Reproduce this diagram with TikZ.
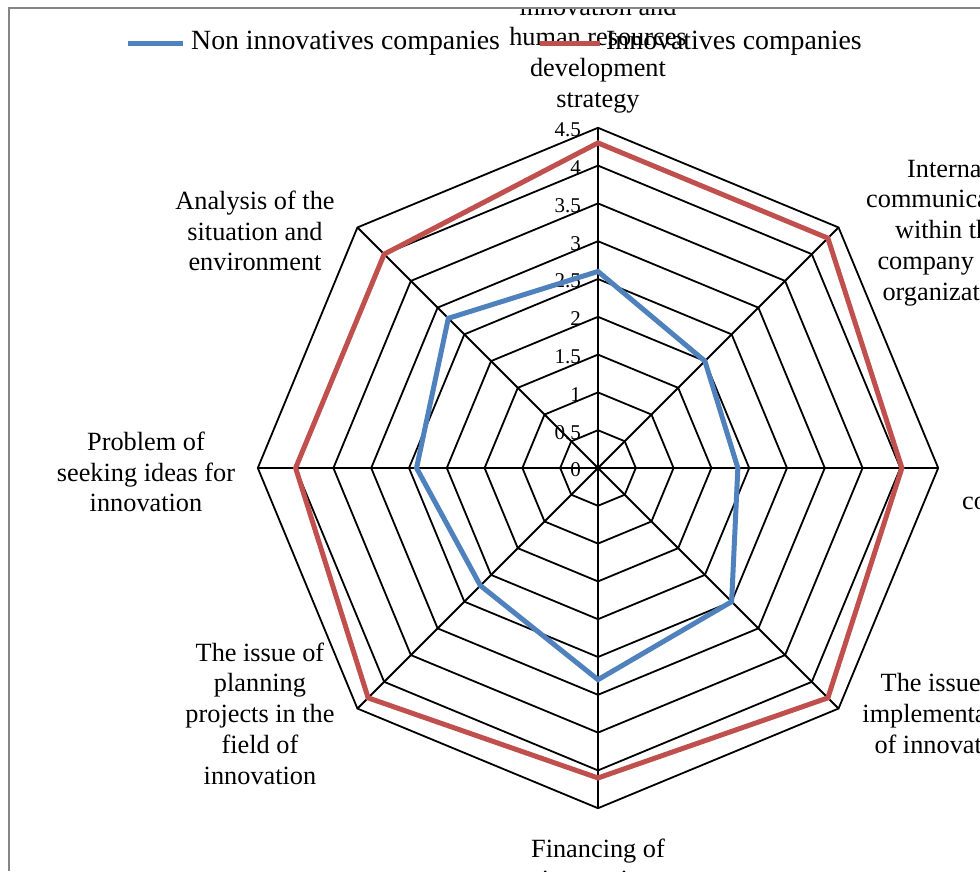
\documentclass[tikz,border=0pt]{standalone}
\usepackage{fontspec}
\setmainfont{Liberation Serif}
\usetikzlibrary{positioning}

\definecolor{nonblue}{RGB}{79,129,189}
\definecolor{innored}{RGB}{192,80,77}
\definecolor{framegray}{RGB}{134,134,134}

\def\unitr{75.6}

\tikzset{
  axislabel/.style={align=center,inner sep=0pt,font=\fontsize{26.3}{30.8}\selectfont},
  ticklabel/.style={anchor=east,inner sep=0pt,font=\fontsize{21}{23}\selectfont},
  legendtext/.style={anchor=west,inner sep=0pt,font=\fontsize{27.8}{32}\selectfont},
  gridline/.style={line width=1.8pt,black},
  seriesline/.style={line width=5pt,line join=miter},
}

\begin{document}
\begin{tikzpicture}[x=1pt,y=1pt]
    \useasboundingbox (-598,-403) rectangle (382,468);

    \begin{scope}
    \clip (-598,-403) rectangle (382,460);

    % web
    \foreach \a in {90,45,...,-225}
        \draw[gridline] (0,0) -- (\a:{4.5*\unitr});
    \foreach \v in {0.5,1,...,4.5}
        \draw[gridline] (90:{\v*\unitr}) \foreach \a in {45,0,...,-225}{ -- (\a:{\v*\unitr})} -- cycle;

    % scale
    \foreach \v in {0,0.5,1,1.5,2,2.5,3,3.5,4,4.5}
        \node (tick\v)[ticklabel] at (-17,{\v*\unitr-2}) {\v};

    % series
    \foreach \v [count=\i from 0] in {2.6,2.0,1.85,2.5,2.8,2.2,2.4,2.8}
        \coordinate (non\i) at ({90-45*\i}:{\v*\unitr});
    \foreach \v [count=\i from 0] in {4.3,4.3,4.02,4.3,4.1,4.3,4.0,4.0}
        \coordinate (inno\i) at ({90-45*\i}:{\v*\unitr});
    \draw[seriesline,nonblue] (non0) -- (non1) -- (non2) -- (non3) -- (non4) -- (non5) -- (non6) -- (non7) -- cycle;
    \draw[seriesline,innored] (inno0) -- (inno1) -- (inno2) -- (inno3) -- (inno4) -- (inno5) -- (inno6) -- (inno7) -- cycle;

    % axis labels
    \node (lblStrategy)[axislabel] at (0,413) {innovation and\\human resources\\development\\strategy};
    \node (lblCommunication)[axislabel] at (350,235.5) {Internal\\communication\\within the\\company and\\organization};
    \node (lblCo)[axislabel,anchor=west] at (364,-35) {co};
    \node (lblImplementation)[axislabel] at (347,-245.5) {The issue of\\implementation\\of innovation};
    \node (lblFinancing)[axislabel] at (0,-396) {Financing of\\innovation};
    \node (lblPlanning)[axislabel] at (-338,-245.5) {The issue of\\planning\\projects in the\\field of\\innovation};
    \node (lblIdeas)[axislabel] at (-452,-4) {Problem of\\seeking ideas for\\innovation};
    \node (lblAnalysis)[axislabel] at (-343,237) {Analysis of the\\situation and\\environment};

    % legend
    \node (legNon)[legendtext] at (-407,425) {Non innovatives companies};
    \node (legInno)[legendtext] at (8,425) {Innovatives companies};
    \draw[seriesline,nonblue] ([xshift=-8pt,yshift=-1pt]legNon.west) -- ++(-55,0);
    \draw[seriesline,innored] ([xshift=-6pt,yshift=-1pt]legInno.west) -- ++(-60,0);
    \end{scope}

    \draw[framegray,line width=2pt] (-589,-403) -- (-589,460) -- (382,460);
\end{tikzpicture}
\end{document}
